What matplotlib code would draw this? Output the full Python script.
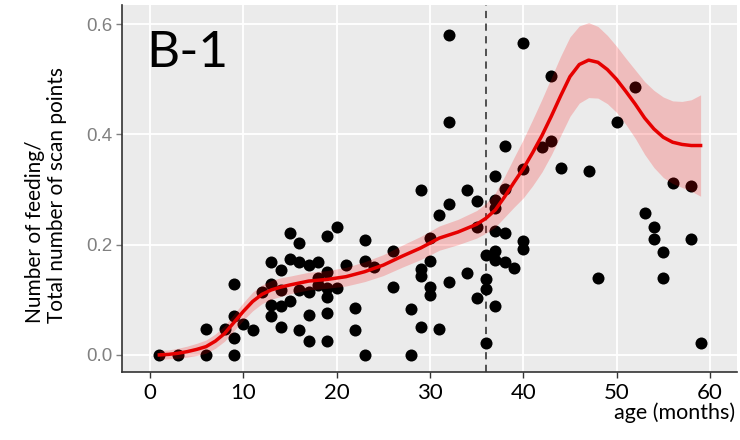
import matplotlib
matplotlib.use('Agg')
import matplotlib.pyplot as plt

# observed points: age (months) and feeding ratio
age = [1, 3, 6, 6, 8, 9, 9, 9, 9, 10, 11, 12,
       13, 13, 13, 13, 14, 14, 14, 14, 15, 15, 15,
       16, 16, 16, 16, 17, 17, 17, 17, 18, 18, 18,
       19, 19, 19, 19, 19, 19, 20, 20, 21, 22, 22,
       23, 23, 23, 24, 26, 26, 28, 28,
       29, 29, 29, 29, 30, 30, 30, 30, 31, 31,
       32, 32, 32, 32, 34, 34, 35, 35, 35,
       36, 36, 36, 36, 37, 37, 37, 37, 37, 37, 37,
       38, 38, 38, 38, 39, 40, 40, 40, 40,
       42, 43, 43, 44, 47, 48, 50, 52, 53, 54, 54,
       55, 55, 56, 58, 58, 59]
ratio = [0.0, 0.0, 0.0, 0.047, 0.047, 0.0, 0.030, 0.071, 0.128, 0.057, 0.045, 0.115,
         0.169, 0.129, 0.091, 0.071, 0.154, 0.118, 0.089, 0.050, 0.221, 0.174, 0.097,
         0.204, 0.169, 0.118, 0.045, 0.163, 0.115, 0.073, 0.026, 0.169, 0.140, 0.127,
         0.216, 0.151, 0.121, 0.105, 0.076, 0.026, 0.232, 0.121, 0.163, 0.085, 0.045,
         0.208, 0.170, 0.0, 0.160, 0.189, 0.123, 0.083, 0.0,
         0.300, 0.156, 0.143, 0.050, 0.213, 0.171, 0.123, 0.109, 0.254, 0.047,
         0.581, 0.423, 0.274, 0.133, 0.300, 0.148, 0.280, 0.233, 0.103,
         0.181, 0.137, 0.119, 0.021, 0.324, 0.281, 0.266, 0.224, 0.189, 0.172, 0.089,
         0.380, 0.302, 0.221, 0.168, 0.157, 0.566, 0.337, 0.206, 0.193,
         0.378, 0.506, 0.389, 0.339, 0.334, 0.139, 0.423, 0.486, 0.257, 0.232, 0.211,
         0.186, 0.139, 0.312, 0.307, 0.211, 0.021]

# smoother
fit_age = [1, 2, 3, 4, 5, 6, 7, 8, 9, 10, 11, 12, 13, 14, 15, 17, 19, 21, 23, 25,
           27, 29, 31, 33, 35, 36, 37, 38, 39, 40, 41, 42, 43, 44, 45, 46, 47, 48,
           49, 50, 51, 52, 53, 54, 55, 56, 57, 58, 59]
fit = [0.000, 0.001, 0.003, 0.006, 0.010, 0.015, 0.025, 0.039, 0.059, 0.079, 0.097,
       0.110, 0.118, 0.123, 0.127, 0.134, 0.137, 0.142, 0.151, 0.163, 0.179, 0.194,
       0.212, 0.223, 0.237, 0.248, 0.263, 0.287, 0.313, 0.338, 0.367, 0.398, 0.433,
       0.470, 0.505, 0.527, 0.535, 0.531, 0.518, 0.500, 0.478, 0.455, 0.430, 0.410,
       0.395, 0.386, 0.382, 0.380, 0.380]
fit_lo = [-0.008, -0.007, -0.006, -0.004, -0.001, 0.003, 0.012, 0.025, 0.044, 0.063,
          0.080, 0.093, 0.101, 0.106, 0.111, 0.118, 0.121, 0.125, 0.133, 0.144, 0.159,
          0.173, 0.190, 0.200, 0.212, 0.221, 0.232, 0.250, 0.268, 0.285, 0.307, 0.332,
          0.363, 0.398, 0.433, 0.457, 0.467, 0.466, 0.456, 0.440, 0.418, 0.393, 0.364,
          0.340, 0.322, 0.311, 0.304, 0.297, 0.288]
fit_hi = [0.008, 0.009, 0.012, 0.016, 0.021, 0.027, 0.038, 0.053, 0.074, 0.095, 0.114,
          0.127, 0.135, 0.140, 0.143, 0.150, 0.153, 0.159, 0.169, 0.182, 0.199, 0.215,
          0.234, 0.246, 0.262, 0.275, 0.294, 0.324, 0.358, 0.391, 0.427, 0.464, 0.503,
          0.542, 0.577, 0.597, 0.603, 0.596, 0.580, 0.560, 0.538, 0.517, 0.496, 0.480,
          0.468, 0.461, 0.460, 0.463, 0.472]

xticks = [0, 10, 20, 30, 40, 50, 60]
yticks = [0.0, 0.2, 0.4, 0.6]
cutoff = 36

fig = plt.figure(figsize=(7.4, 4.4), dpi=100)
ax = fig.add_axes([122 / 740, 68 / 440, 615 / 740, 367 / 440])
ax.set_facecolor('#EBEBEB')

ax.scatter(age, ratio, s=75, color='black', zorder=2, linewidths=0)
ax.fill_between(fit_age, fit_lo, fit_hi, color='red', alpha=0.2, linewidth=0, zorder=3)
ax.plot(fit_age, fit, color='#E60000', lw=2.5, zorder=4, solid_joinstyle='round')
ax.axvline(cutoff, color='#444444', lw=1.3, ls=(0, (4, 3)), zorder=1.5)

ax.set_xlim(-3.0, 62.9)
ax.set_ylim(-0.031, 0.635)
ax.set_xticks(xticks)
ax.set_yticks(yticks)
ax.set_yticklabels(['0.0', '0.2', '0.4', '0.6'])
ax.grid(True, color='white', lw=1.3, zorder=0)
ax.set_axisbelow(True)

for s in ['top', 'right']:
    ax.spines[s].set_visible(False)
for s in ['left', 'bottom']:
    ax.spines[s].set_color('#333333')
    ax.spines[s].set_linewidth(1.2)

ax.tick_params(axis='y', colors='#808080', labelsize=13.5, length=4, width=1, pad=3)
ax.tick_params(axis='x', colors='#333333', labelcolor='black', length=4, width=1, pad=4)
for lab in ax.get_yticklabels():
    lab.set_family('Liberation Sans')
for lab in ax.get_xticklabels():
    lab.set_family('Lato')
    lab.set_fontsize(16)

fig.text(146 / 740, 1 - 30 / 440, 'B-1', fontsize=37, family='Lato', va='top', ha='left')
fig.text(735 / 740, 1 - 413 / 440, 'age (months)', fontsize=15.5, family='Lato',
         ha='right', va='center')
fig.text(46 / 740, 1 - 195 / 440, 'Number of feeding/\nTotal number of scan points',
         fontsize=15, family='Lato', rotation=90, ha='center', va='center',
         multialignment='left', linespacing=1.15)

fig.savefig('out.png', dpi=100)
